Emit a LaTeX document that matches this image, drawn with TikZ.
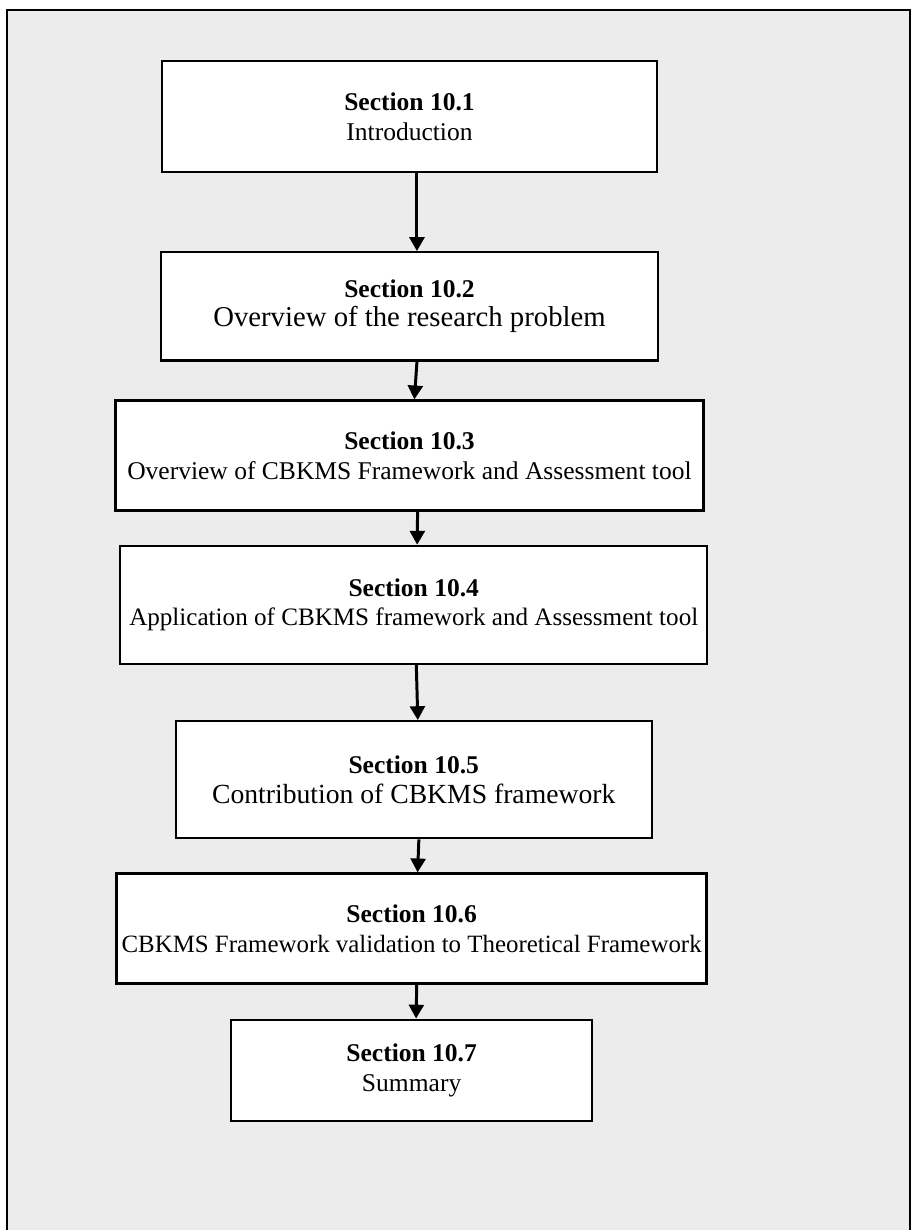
\documentclass[tikz,border=0pt]{standalone}
\usepackage{fontspec}
\setmainfont{Liberation Serif}
\usetikzlibrary{positioning, arrows.meta}
\definecolor{frameGrey}{HTML}{ECECEC}

\tikzset{
  secbox/.style={draw=black, fill=white, line width=1.1pt, align=center, inner sep=2pt},
  flow/.style={line width=1.4pt, -{Triangle[length=6.5pt, width=7pt]}},
}
\newcommand{\sizedline}[2]{{\fontsize{#1}{14}\selectfont #2}}

\begin{document}
\begin{tikzpicture}[x=0.47pt, y=-0.47pt, font=\fontsize{12}{14}\selectfont]
    \useasboundingbox (0,0) rectangle (913,1230);
    \begin{scope}
      \clip (0,0) rectangle (913,1230);
      \draw[fill=frameGrey, line width=1.1pt] (7,10) rectangle (910,1250);
    \end{scope}
    % chapter sections
    \node[secbox, minimum width=232.7pt, minimum height=52.2pt] (s1) at (409.5,116.5) {\textbf{Section 10.1}\\Introduction};
    \node[secbox, minimum width=233.6pt, minimum height=50.8pt, below=36.6pt of s1] (s2) {\textbf{Section 10.2}\\\sizedline{13.5}{Overview of the research problem}};
    \node[secbox, minimum width=276.4pt, minimum height=51.7pt, below=17.8pt of s2] (s3) {\textbf{Section 10.3}\\Overview of CBKMS Framework and Assessment tool};
    \node[secbox, minimum width=275.9pt, minimum height=55.5pt, below=15.5pt of s3, xshift=2pt] (s4) {\textbf{Section 10.4}\\\sizedline{11.8}{Application of CBKMS framework and Assessment tool}};
    \node[secbox, minimum width=223.7pt, minimum height=55pt, below=25.8pt of s4] (s5) {\textbf{Section 10.5}\\\sizedline{13}{Contribution of CBKMS framework}};
    \node[secbox, minimum width=277.3pt, minimum height=51.7pt, below=15.5pt of s5, xshift=-1pt] (s6) {\textbf{Section 10.6}\\\sizedline{11.7}{CBKMS Framework validation to Theoretical Framework}};
    \node[secbox, minimum width=169.7pt, minimum height=47.5pt, below=15.9pt of s6] (s7) {\textbf{Section 10.7}\\Summary};
    % arrows
    \draw[flow] ([xshift=3.5pt]s1.south) -- ([xshift=3.5pt]s2.north);
    \draw[flow] ([xshift=3.5pt]s2.south) -- ([xshift=2.3pt]s3.north);
    \draw[flow] ([xshift=3.8pt]s3.south) -- ([xshift=1.6pt]s4.north);
    \draw[flow] ([xshift=1.2pt]s4.south) -- ([xshift=1.9pt]s5.north);
    \draw[flow] ([xshift=2.4pt]s5.south) -- ([xshift=2.8pt]s6.north);
    \draw[flow] ([xshift=2.4pt]s6.south) -- ([xshift=2.1pt]s7.north);
\end{tikzpicture}
\end{document}
